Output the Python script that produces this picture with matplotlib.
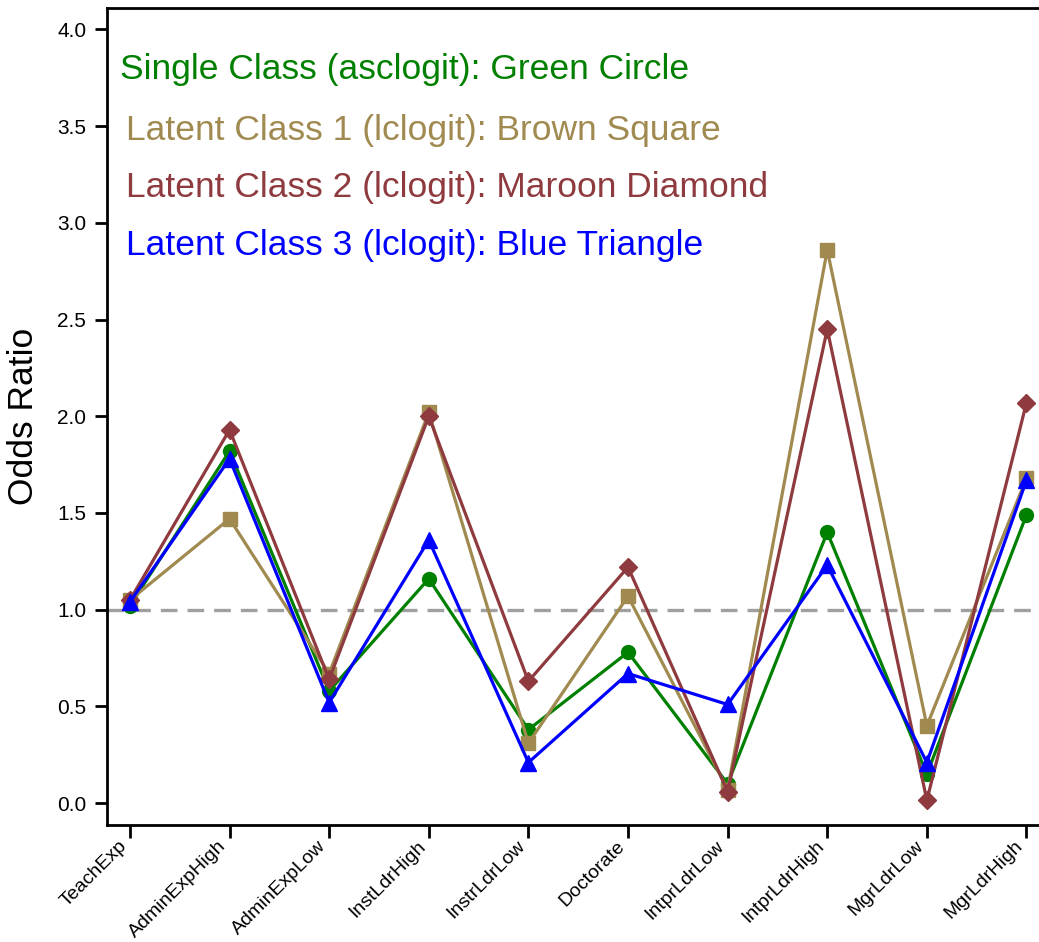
import numpy as np
import matplotlib.pyplot as plt

# odds ratios per covariate for the single-class and latent-class logit models
categories = ['TeachExp', 'AdminExpHigh', 'AdminExpLow', 'InstLdrHigh', 'InstrLdrLow',
              'Doctorate', 'IntprLdrLow', 'IntprLdrHigh', 'MgrLdrLow', 'MgrLdrHigh']
single_class = [1.02, 1.82, 0.58, 1.16, 0.38, 0.78, 0.10, 1.40, 0.15, 1.49]
latent_class1 = [1.05, 1.47, 0.67, 2.02, 0.31, 1.07, 0.07, 2.86, 0.40, 1.68]
latent_class2 = [1.05, 1.93, 0.64, 2.00, 0.63, 1.22, 0.06, 2.45, 0.015, 2.07]
latent_class3 = [1.04, 1.78, 0.52, 1.36, 0.21, 0.67, 0.51, 1.23, 0.21, 1.67]

labels = ['Single Class (asclogit): Green Circle',
          'Latent Class 1 (lclogit): Brown Square',
          'Latent Class 2 (lclogit): Maroon Diamond',
          'Latent Class 3 (lclogit): Blue Triangle']

plt.rcParams['font.family'] = ['Liberation Sans', 'DejaVu Sans']

green = '#008000'
brown = '#A08A50'
maroon = '#8E3A3E'
blue = '#0000FF'

fig = plt.figure(figsize=(10.39, 9.42), dpi=100)
ax = fig.add_axes([0.103, 0.124, 0.907, 0.867])

x = np.arange(len(categories))
ax.axhline(1.0, color='#A0A0A0', lw=2.4, ls=(0, (5, 3)), zorder=1)
ax.plot(x, single_class, color=green, marker='o', ms=10, lw=2.3, zorder=3)
ax.plot(x, latent_class1, color=brown, marker='s', ms=10, lw=2.3, zorder=3)
ax.plot(x, latent_class2, color=maroon, marker='D', ms=9.5, lw=2.3, zorder=3)
ax.plot(x, latent_class3, color=blue, marker='^', ms=11.5, lw=2.3, zorder=3)

# coloured text in place of a legend
ys = [0.925, 0.850, 0.781, 0.710]
xs = [0.014, 0.020, 0.020, 0.020]
for lab, c, yy, xx in zip(labels, [green, brown, maroon, blue], ys, xs):
    ax.text(xx, yy, lab, color=c, fontsize=25.5, transform=ax.transAxes, va='center')

ax.set_xlim(-0.23, 9.23)
ax.set_ylim(-0.114, 4.108)
yt = np.arange(0, 4.01, 0.5)
ax.set_yticks(yt)
ax.set_yticklabels(['{:.1f}'.format(v) for v in yt], fontsize=15)
ax.set_xticks(x)
ax.set_xticklabels(categories, rotation=45, ha='right', fontsize=14)
ax.tick_params(axis='both', direction='out', length=9, width=2, pad=6)
ax.tick_params(axis='x', pad=0)
ax.set_ylabel('Odds Ratio', fontsize=25.5, labelpad=12)
for side in ['left', 'bottom', 'top']:
    ax.spines[side].set_linewidth(2)
ax.spines['right'].set_visible(False)

fig.savefig('out.png', dpi=100)
